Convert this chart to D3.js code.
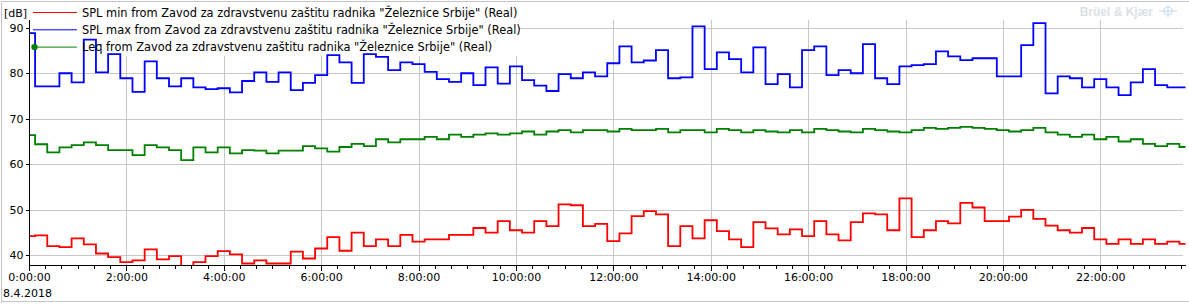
<!DOCTYPE html>
<html>
<head>
<meta charset="utf-8">
<script src="https://cdn.jsdelivr.net/npm/d3@7"></script>
<style>
  body { margin: 0; background: #fff; }
  svg { display: block; font-family: 'DejaVu Sans', sans-serif; }
</style>
</head>
<body>
<svg class="splSVG" width="1189" height="304"></svg>
<script>
// 15 min samples, 8.4.2018 from 0:00:00
const startTime = new Date(2018, 3, 8, 0, 0, 0);
const stepMinutes = 15;

const splMax = [
  88.8, 77.1, 77.1, 80.0, 78.0, 87.4, 80.2, 84.2, 78.9, 75.9, 82.6, 78.9, 77.1, 78.9, 76.9, 76.5,
  76.7, 75.8, 78.3, 80.2, 78.1, 80.2, 76.3, 77.9, 79.6, 84.0, 82.4, 77.9, 84.2, 83.6, 80.7, 82.4,
  82.0, 80.3, 78.7, 78.1, 80.0, 77.4, 81.3, 77.7, 81.5, 78.5, 77.3, 76.1, 79.8, 78.9, 80.2, 79.3,
  82.2, 85.9, 82.4, 82.8, 85.1, 78.9, 79.1, 90.3, 80.9, 84.6, 83.1, 80.2, 85.7, 77.6, 79.8, 76.9,
  85.1, 85.9, 79.6, 80.7, 80.0, 86.4, 78.9, 77.6, 81.5, 81.8, 82.0, 84.8, 83.7, 82.9, 83.3, 83.3,
  79.3, 79.3, 86.2, 91.0, 75.6, 79.3, 78.9, 76.9, 78.7, 76.9, 75.2, 78.0, 80.9, 77.4, 76.9, 76.9
];

const leq = [
  66.4, 64.4, 62.6, 63.7, 64.2, 64.8, 64.2, 63.1, 63.1, 62.0, 64.2, 63.7, 63.1, 60.9, 63.7, 62.6,
  63.7, 62.4, 63.1, 63.0, 62.4, 63.0, 63.0, 64.0, 63.5, 62.8, 63.8, 64.5, 64.0, 65.5, 64.8, 65.5,
  65.5, 66.0, 65.5, 66.5, 66.0, 66.5, 66.8, 66.5, 66.8, 67.2, 66.5, 67.2, 67.5, 67.0, 67.5, 67.5,
  67.2, 67.8, 67.5, 67.5, 67.8, 67.0, 67.5, 67.5, 67.0, 67.8, 67.5, 67.0, 67.5, 67.2, 67.0, 67.5,
  67.0, 67.8, 67.5, 67.2, 67.0, 67.8, 67.5, 67.2, 67.0, 67.5, 68.0, 67.8, 68.0, 68.2, 68.0, 67.8,
  67.5, 67.2, 67.5, 68.0, 67.0, 66.5, 66.0, 66.5, 65.5, 66.0, 65.0, 65.5, 64.5, 64.0, 64.5, 63.8
];

const splMin = [
  44.2, 44.4, 42.0, 41.8, 43.7, 42.4, 40.4, 39.6, 38.5, 38.9, 41.3, 39.1, 39.8, 37.5, 38.5, 39.8,
  40.9, 40.2, 38.2, 38.9, 38.2, 38.2, 40.8, 39.3, 41.5, 44.0, 41.0, 45.0, 42.0, 43.5, 42.0, 44.5,
  43.0, 43.5, 43.5, 44.5, 44.5, 46.0, 45.0, 47.5, 45.5, 45.0, 47.5, 46.4, 51.2, 51.0, 46.4, 46.9,
  43.1, 44.8, 48.6, 49.7, 49.0, 42.0, 46.4, 43.7, 47.7, 45.3, 43.5, 41.8, 47.3, 45.9, 44.6, 45.7,
  44.2, 47.5, 44.6, 43.3, 47.3, 49.2, 49.0, 45.5, 52.5, 44.0, 45.5, 47.5, 47.0, 51.5, 50.5, 47.5,
  47.5, 48.5, 50.0, 48.0, 46.5, 45.5, 45.0, 46.0, 43.5, 42.5, 43.5, 42.5, 43.5, 42.5, 43.0, 42.5
];

const seriesNames = [
  'SPL min from Zavod za zdravstvenu zaštitu radnika "Železnice Srbije" (Real)',
  'SPL max from Zavod za zdravstvenu zaštitu radnika "Železnice Srbije" (Real)',
  'Leq from Zavod za zdravstvenu zaštitu radnika "Železnice Srbije" (Real)'
];
const seriesColors = ['#ff0000', '#0000ff', '#008000'];
const yTicks = [40, 50, 60, 70, 80, 90];

// small stand-ins for d3-selection-multi
d3.selection.prototype.attrs = function(o){
  for (const k in o) this.attr(k, o[k]);
  return this;
};
d3.selection.prototype.styles = function(o){
  for (const k in o) this.style(k, o[k]);
  return this;
};

function drawChart(){
  const svg = d3.select('svg.splSVG');
  const left = 29, right = 1185.5, top = 20, bottom = 265;
  const endTime = d3.timeMinute.offset(startTime, stepMinutes * (splMax.length - 1));

  const x = d3.scaleTime().domain([startTime, endTime]).range([left, right]);
  const y = d3.scaleLinear().domain([37.87, 91.7]).range([bottom, top]);

  const times = splMax.map((d, i) => d3.timeMinute.offset(startTime, i * stepMinutes));
  const majorTicks = d3.timeHour.every(2).range(startTime, endTime);
  const minorTicks = d3.timeMinute.every(20).range(startTime, endTime);

  // window frame
  svg.append('path')
    .attr('d', `M1.5,303V1.5H1189 M1.5,301.5H1189`)
    .styles({fill: 'none', stroke: '#c4c4cc', 'stroke-width': 1});

  // grid
  const grid = svg.append('g').attr('class', 'grid')
    .styles({stroke: '#c8c8c8', 'stroke-width': 1, 'shape-rendering': 'crispEdges'});
  grid.selectAll('line.h')
    .data(yTicks)
    .enter()
    .append('line')
    .attrs({x1: left, x2: right - 3, y1: d => Math.round(y(d)) + 0.5, y2: d => Math.round(y(d)) + 0.5});
  grid.selectAll('line.v')
    .data(majorTicks.slice(1))
    .enter()
    .append('line')
    .attrs({x1: d => Math.round(x(d)) + 0.5, x2: d => Math.round(x(d)) + 0.5, y1: top, y2: bottom});

  // legend background hides the grid under it
  svg.append('rect')
    .attrs({x: 30, y: 3, width: 489, height: 53})
    .style('fill', '#fff');

  // watermark
  svg.append('text')
    .text('Brüel & Kjær')
    .attrs({x: 1153, y: 16})
    .styles({'text-anchor': 'end', fill: '#dcdfe3', 'font-size': '12px', 'font-weight': 'bold',
             'font-family': "'Liberation Sans', sans-serif"});
  const logo = svg.append('g').attr('transform', 'translate(1168,11)')
    .styles({stroke: '#c9dcf0', 'stroke-width': 1.2, fill: 'none'});
  logo.append('circle').attrs({r: 4});
  logo.append('line').attrs({x1: -9, x2: 9, y1: 0, y2: 0});
  logo.append('line').attrs({x1: 0, x2: 0, y1: -6, y2: 6});

  // series
  svg.append('clipPath').attr('id', 'plotClip')
    .append('rect').attrs({x: left, y: 0, width: right - left + 1, height: bottom});

  const line = d3.line()
    .x((d, i) => x(times[i]))
    .y(d => y(d))
    .curve(d3.curveStep);

  const series = [leq, splMax, splMin];
  const cols = [seriesColors[2], seriesColors[1], seriesColors[0]];
  svg.append('g')
    .attr('clip-path', 'url(#plotClip)')
    .selectAll('path')
    .data(series)
    .enter()
    .append('path')
    .attr('d', d => line(d))
    .style('fill', 'none')
    .style('stroke', (d, i) => cols[i])
    .style('stroke-width', 1.8);

  // axes
  const yAxis = d3.axisLeft(y).tickValues(yTicks).tickSize(4).tickFormat(d3.format('d'));
  const gy = svg.append('g').attr('transform', `translate(${left + 0.5},0)`).call(yAxis);
  gy.select('.domain').attr('d', `M0,${top}V${bottom}`);
  gy.selectAll('text').attr('x', -6);

  const xMinor = d3.axisBottom(x).tickValues(minorTicks).tickSize(3).tickFormat('');
  const gxm = svg.append('g').attr('transform', `translate(0,${bottom + 0.5})`).call(xMinor);
  gxm.select('.domain').attr('d', `M${left},0H${right}`);

  const xAxis = d3.axisBottom(x).tickValues(majorTicks).tickSize(5)
    .tickFormat(d3.timeFormat('%-H:%M:%S'));
  const gx = svg.append('g').attr('transform', `translate(0,${bottom + 0.5})`).call(xAxis);
  gx.select('.domain').remove();
  gx.selectAll('text').attr('y', 8);

  svg.selectAll('.tick text').styles({'font-size': '11px', 'font-family': "'DejaVu Sans', sans-serif", fill: '#000'});
  svg.selectAll('.tick line, .domain').attr('shape-rendering', 'crispEdges');

  svg.append('text')
    .text('8.4.2018')
    .attrs({x: 3, y: 297})
    .styles({'font-size': '11px', fill: '#000'});

  svg.append('text')
    .text('[dB]')
    .attrs({x: 4, y: 17})
    .styles({'font-size': '11px', fill: '#000'});

  // legend
  const legend = svg.append('g').attr('class', 'legend');
  const rows = legend.selectAll('g')
    .data(seriesNames)
    .enter()
    .append('g')
    .attr('transform', (d, i) => `translate(0,${12.5 + i * 17.3})`);
  rows.append('line')
    .attrs({x1: 33, x2: 77, y1: 0, y2: 0})
    .style('stroke', (d, i) => seriesColors[i])
    .style('stroke-width', 1);
  rows.append('text')
    .text(d => d)
    .attrs({x: 82, y: 4})
    .styles({'font-size': '11.4px', fill: '#000'});
  legend.append('circle')
    .attrs({cx: 34.5, cy: 12.5 + 2 * 17.3, r: 3.2})
    .style('fill', seriesColors[2]);
}

drawChart();
</script>
</body>
</html>
